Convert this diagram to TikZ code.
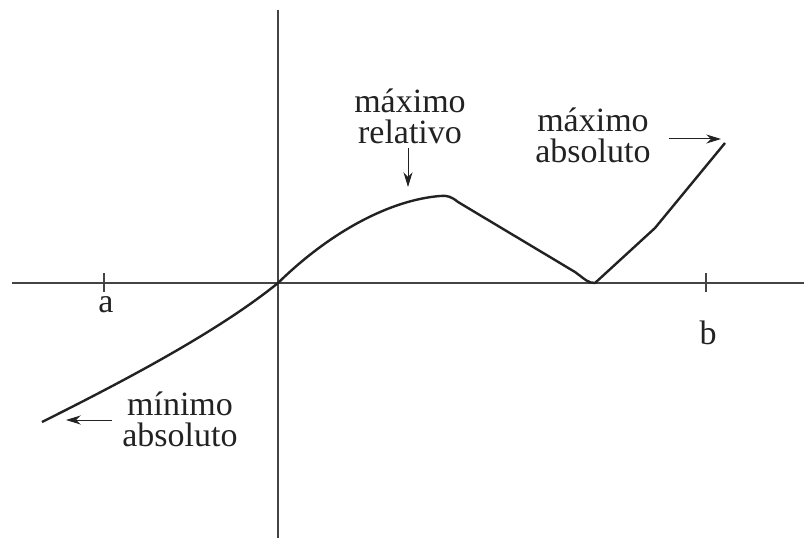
\documentclass[tikz,border=0pt]{standalone}
\usepackage{fontspec}
\setmainfont{Liberation Serif}
\usepackage{tikz}
\usetikzlibrary{arrows.meta}
\definecolor{axiscolor}{HTML}{444444}
\definecolor{curvecolor}{HTML}{222222}
\tikzset{
  ext axis/.style={draw=axiscolor,line width=.7pt},
  ext tick/.style={draw=axiscolor,line width=.9pt},
  ext curve/.style={curvecolor,line width=1.2pt,line join=round},
  ext arrow/.style={curvecolor,line width=.5pt,-{Stealth[length=2.6mm,width=1.6mm]}},
  ext label/.style={align=center,text=curvecolor,inner sep=0pt,font=\fontsize{17}{15.5}\selectfont}
}
\begin{document}
\begin{tikzpicture}[x=.5pt,y=-.5pt]
  \useasboundingbox (0,0) rectangle (804,540);
  % axes
  \coordinate (xl) at (12,283); \coordinate (xr) at (804,283);
  \coordinate (yt) at (278,10); \coordinate (yb) at (278,538);
  \draw[ext axis] (xl)--(xr);
  \draw[ext axis] (yt)--(yb);
  % endpoints of the interval
  \foreach \x/\name/\ly in {104/a/305,706/b/333}{
    \draw[ext tick] (\x,273)--(\x,292);
    \node[ext label] (lbl\name) at (\x+2,\ly) {\name};
  }
  % the graph
  \coordinate (start) at (42,422); \coordinate (orig) at (278,283);
  \coordinate (peak) at (440,196); \coordinate (valley) at (595,283);
  \coordinate (kink) at (655,228); \coordinate (stop) at (725,143);
  \draw[ext curve] (start) .. controls (130,378) and (220,330) .. (orig)
    .. controls (330,232) and (390,200) .. (peak)
    .. controls (447,195) and (452,197) .. (458,202)
    -- (575,272) .. controls (586,280) and (588,283) .. (valley)
    -- (kink) -- (stop);
  % labels
  \node[ext label] (relmax) at (410,116) {máximo\\relativo};
  \node[ext label] (absmax) at (593,135) {máximo\\absoluto};
  \node[ext label] (absmin) at (180,419) {mínimo\\absoluto};
  \coordinate (rel tail) at (408,148); \coordinate (rel head) at (408,187);
  \coordinate (max tail) at (669,139); \coordinate (max head) at (721,139);
  \coordinate (min tail) at (112,420); \coordinate (min head) at (66,420);
  \draw[ext arrow] (rel tail) -- (rel head);
  \draw[ext arrow] (max tail) -- (max head);
  \draw[ext arrow] (min tail) -- (min head);
\end{tikzpicture}
\end{document}
